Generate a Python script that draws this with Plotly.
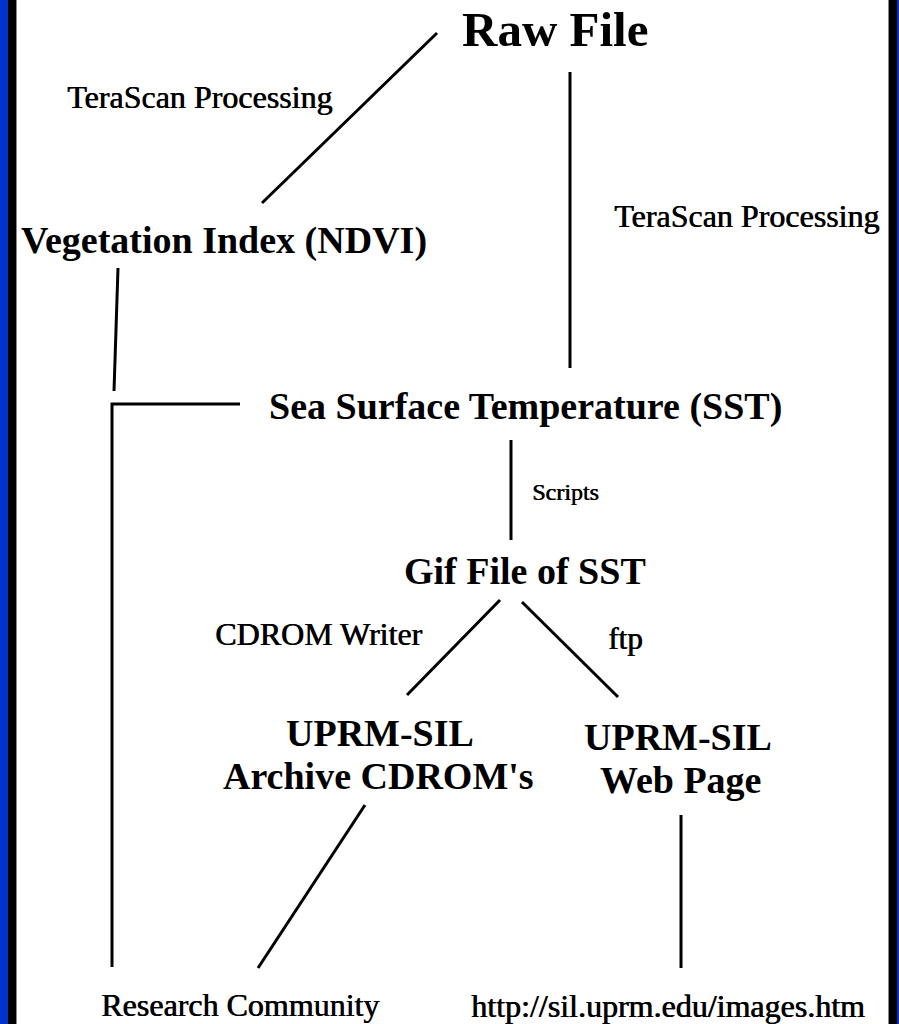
import plotly.graph_objects as go

W, H = 899, 1024

# ---- Nodes / labels (text, x centre, y centre, size, bold) ----
label_text = ["Raw File", "TeraScan Processing", "TeraScan Processing",
              "Vegetation Index (NDVI)", "Sea Surface Temperature (SST)", "Scripts",
              "Gif File of SST", "CDROM Writer", "ftp",
              "UPRM-SIL", "Archive CDROM's", "UPRM-SIL", "Web Page",
              "Research Community", "http://sil.uprm.edu/images.htm"]
label_x = [555, 199, 746, 224, 525, 565, 525, 318, 625, 380, 378, 678, 680, 240, 668]
label_y = [29, 97, 216, 240, 406, 492, 571, 634, 638, 733, 776, 737, 780, 1005, 1006]
label_size = [49, 32, 32, 38, 38, 24, 38, 32, 31, 38, 38, 38, 38, 32, 32]
label_bold = [True, False, False, True, True, False, True, False, False,
              True, True, True, True, False, False]

# ---- Connector polylines ----
edge_x = [
    [437, 262],
    [570, 570],
    [118, 116, 114],
    [240, 112, 112],
    [511, 511],
    [500, 407],
    [522, 618],
    [365, 258],
    [681, 681],
]
edge_y = [
    [33, 203],
    [72, 368],
    [268, 330, 391],
    [404, 404, 967],
    [440, 540],
    [600, 695],
    [602, 697],
    [805, 968],
    [815, 968],
]

fig = go.Figure()
for xs, ys in zip(edge_x, edge_y):
    fig.add_trace(go.Scatter(x=xs, y=ys, mode="lines",
                             line=dict(color="black", width=3),
                             hoverinfo="skip", showlegend=False))

for t, x, y, s, b in zip(label_text, label_x, label_y, label_size, label_bold):
    fig.add_annotation(x=x, y=y, xref="x", yref="y", showarrow=False,
                       text=f"<b>{t}</b>" if b else t,
                       font=dict(family="Liberation Serif", size=s, color="black",
                                 shadow="none" if b else "0.7px 0px 0px black"),
                       xanchor="center", yanchor="middle", borderpad=0)

# side borders
for x0, x1, c in [(0, 8, "#0033cc"), (8, 16, "black"), (16, 17, "#888888"),
                  (888, 889, "#888888"), (889, 897, "black"), (897, 899, "#0033cc")]:
    fig.add_shape(type="rect", xref="x", yref="y", x0=x0, x1=x1, y0=0, y1=H,
                  fillcolor=c, line=dict(width=0), layer="above")

fig.update_layout(width=W, height=H, margin=dict(l=0, r=0, t=0, b=0),
                  paper_bgcolor="white", plot_bgcolor="white",
                  xaxis=dict(range=[0, W], visible=False, fixedrange=True),
                  yaxis=dict(range=[H, 0], visible=False, fixedrange=True))

fig.write_html("out.html", config={"displayModeBar": False},
               post_script="document.body.style.margin='0';"
                           "document.body.style.overflow='hidden';")
